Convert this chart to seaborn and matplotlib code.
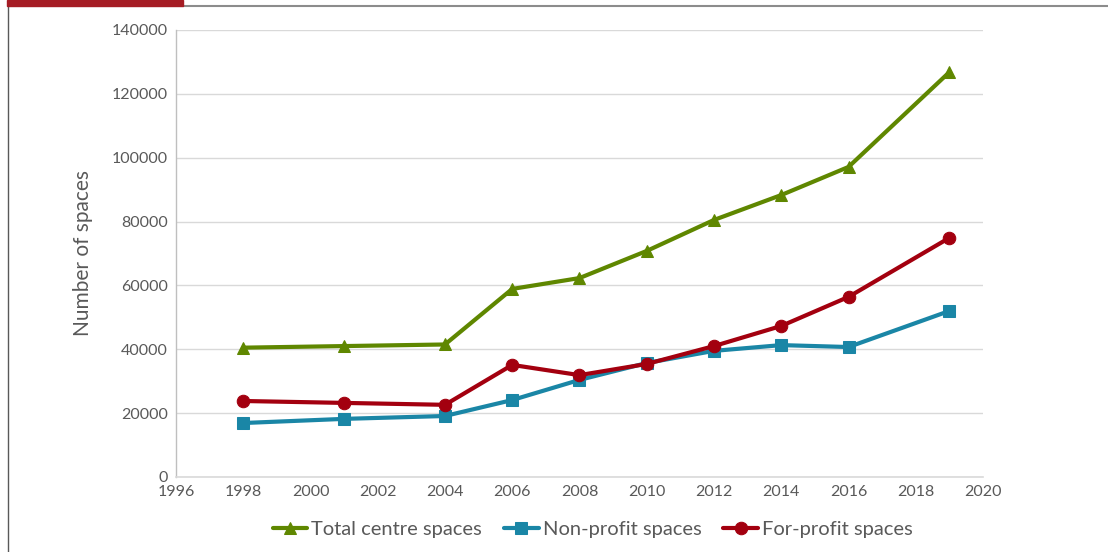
import matplotlib
matplotlib.use("Agg")
import matplotlib.pyplot as plt
import seaborn as sns
import pandas as pd
from matplotlib.patches import Rectangle
from matplotlib.lines import Line2D

years = [1998, 2001, 2004, 2006, 2008, 2010, 2012, 2014, 2016, 2019]
total_spaces = [40500, 41000, 41500, 58900, 62300, 70800, 80500, 88300, 97100, 126800]
nonprofit_spaces = [16900, 18200, 19100, 24100, 30400, 35700, 39500, 41300, 40700, 52000]
forprofit_spaces = [23800, 23200, 22600, 35100, 31900, 35400, 41000, 47300, 56400, 74900]
series_names = ["Total centre spaces", "Non-profit spaces", "For-profit spaces"]
x_ticks = list(range(1996, 2021, 2))
y_ticks = list(range(0, 140001, 20000))

sns.set_theme(style="white")
plt.rcParams['font.family'] = ['Lato', 'DejaVu Sans']

fig = plt.figure(figsize=(11.08, 5.52), dpi=100)
ax = fig.add_axes([0.1588, 0.1359, 0.8872 - 0.1588, 0.9457 - 0.1359])

colors = ["#5F8700", "#1A86A6", "#A3000F"]
markers = ["^", "s", "o"]
for vals, name, c, m in zip([total_spaces, nonprofit_spaces, forprofit_spaces], series_names, colors, markers):
    df = pd.DataFrame({"year": years, "value": vals})
    sns.lineplot(data=df, x="year", y="value", ax=ax, color=c, marker=m, markersize=9,
                 linewidth=3, markeredgecolor=c, label=name)

ax.set_xlim(1996, 2020)
ax.set_ylim(0, 140000)
ax.set_xticks(x_ticks)
ax.set_yticks(y_ticks)
ax.set_xticklabels([str(t) for t in x_ticks])
ax.set_yticklabels([str(t) for t in y_ticks])
ax.tick_params(axis='both', labelsize=11.5, labelcolor="#595959", length=4, color="#bfbfbf", direction='out')
ax.tick_params(axis='x', pad=2)
ax.tick_params(axis='y', pad=2)
ax.grid(axis='y', color="#d9d9d9", linewidth=1)
ax.set_axisbelow(True)
for s in ["top", "right"]:
    ax.spines[s].set_visible(False)
ax.spines["left"].set_color("#bfbfbf")
ax.spines["bottom"].set_color("#d9d9d9")
ax.spines["left"].set_linewidth(1)
ax.spines["bottom"].set_linewidth(1.2)
ax.set_xlabel("")
ax.set_ylabel("Number of spaces", fontsize=15, color="#595959", labelpad=13)

handles, labels = ax.get_legend_handles_labels()
ax.legend_.remove()
fig.legend(handles, labels, loc="center", bbox_to_anchor=(0.535, 0.04), ncol=3, frameon=False,
           fontsize=14.5, labelcolor="#595959", handlelength=1.7, columnspacing=1.1, handletextpad=0.2)

# frame decorations
fig.add_artist(Rectangle((7 / 1108, 1 - 6 / 552), (183 - 7) / 1108, 6 / 552, transform=fig.transFigure,
                         color="#A51C24", zorder=5))
fig.add_artist(Line2D([183 / 1108, 1.0], [1 - 6 / 552, 1 - 6 / 552], transform=fig.transFigure,
                      color="#8c8c8c", linewidth=1.5))
fig.add_artist(Line2D([7.5 / 1108, 7.5 / 1108], [0, 1 - 3 / 552], transform=fig.transFigure,
                      color="#595959", linewidth=1))

fig.savefig("out.png", dpi=100)
